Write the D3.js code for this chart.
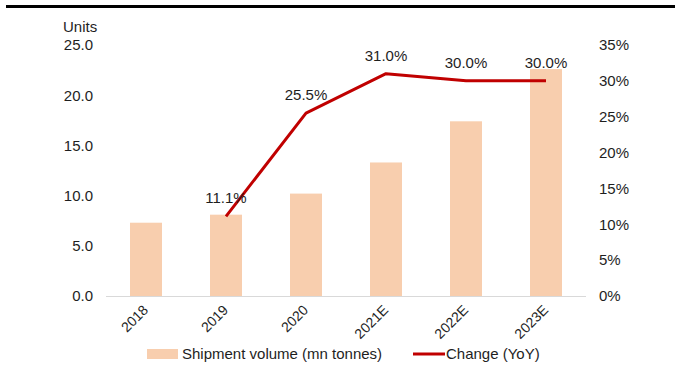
<!DOCTYPE html>
<html>
<head>
<meta charset="utf-8">
<script src="https://cdn.jsdelivr.net/npm/d3@7/dist/d3.min.js"></script>
<style>
  html, body { margin: 0; padding: 0; background: #fff; }
  svg { display: block; font-family: "Liberation Sans", Arial, sans-serif; }
</style>
</head>
<body>
<svg id="chart" width="675" height="367"></svg>
<script>
// Shipment volume (mn tonnes) and year-on-year change
const years = ["2018", "2019", "2020", "2021E", "2022E", "2023E"];
const volume = [7.3, 8.1, 10.2, 13.3, 17.4, 22.6];
const changeYears = ["2019", "2020", "2021E", "2022E", "2023E"];
const changePct = [11.1, 25.5, 31.0, 30.0, 30.0];
const leftTicks = [0, 5, 10, 15, 20, 25];
const rightTicks = [0, 5, 10, 15, 20, 25, 30, 35];

const svg = d3.select("#chart");
const textColor = "#1e1e1e";
const barColor = "#F8CEAE";
const lineColor = "#C00000";

const plot = { left: 106, right: 586, top: 45, bottom: 296 };

// Heavy rule across the top of the page
svg.append("rect")
  .attr("x", 6).attr("y", 5).attr("width", 669).attr("height", 3)
  .attr("fill", "#000");

const x = d3.scaleBand().domain(years)
  .range([plot.left, plot.right]).paddingInner(0.6).paddingOuter(0.3);
const yL = d3.scaleLinear().domain([0, 25]).range([plot.bottom, plot.top]);
const yR = d3.scaleLinear().domain([0, 35]).range([plot.bottom, plot.top]);

// Bars
svg.append("g").selectAll("rect")
  .data(years.map((y, i) => ({ year: y, v: volume[i] })))
  .join("rect")
  .attr("x", d => x(d.year))
  .attr("width", x.bandwidth())
  .attr("y", d => yL(d.v))
  .attr("height", d => yL(0) - yL(d.v))
  .attr("fill", barColor);

// Baseline
svg.append("line")
  .attr("x1", plot.left).attr("x2", plot.right)
  .attr("y1", plot.bottom + 0.5).attr("y2", plot.bottom + 0.5)
  .attr("stroke", "#d9d9d9").attr("stroke-width", 1);

// Left axis
const leftAxis = svg.append("g")
  .attr("transform", `translate(${plot.left - 13},0)`)
  .call(d3.axisLeft(yL).tickValues(leftTicks).tickFormat(d3.format(".1f")).tickSize(0).tickPadding(0));
leftAxis.select(".domain").remove();
leftAxis.selectAll("text")
  .attr("font-size", 15).attr("fill", textColor)
  .attr("font-family", "Liberation Sans, Arial, sans-serif");

svg.append("text")
  .attr("x", 63).attr("y", 32)
  .attr("font-size", 15).attr("fill", textColor)
  .text("Units");

// Right axis
const rightAxis = svg.append("g")
  .attr("transform", `translate(${plot.right + 13},0)`)
  .call(d3.axisRight(yR).tickValues(rightTicks).tickFormat(d => d + "%").tickSize(0).tickPadding(0));
rightAxis.select(".domain").remove();
rightAxis.selectAll("text")
  .attr("font-size", 15).attr("fill", textColor)
  .attr("font-family", "Liberation Sans, Arial, sans-serif");

// Category labels, rotated
const cx = d => x(d) + x.bandwidth() / 2;
svg.append("g").selectAll("text")
  .data(years)
  .join("text")
  .attr("transform", d => `translate(${cx(d) + 3},${plot.bottom + 15}) rotate(-45)`)
  .attr("text-anchor", "end")
  .attr("font-size", 14)
  .attr("fill", textColor)
  .text(d => d);

// YoY change line
const linePts = changeYears.map((y, i) => ({ year: y, v: changePct[i] }));
svg.append("path")
  .datum(linePts)
  .attr("fill", "none")
  .attr("stroke", lineColor)
  .attr("stroke-width", 3)
  .attr("stroke-linejoin", "round")
  .attr("d", d3.line().x(d => cx(d.year)).y(d => yR(d.v)));

svg.append("g").selectAll("text")
  .data(linePts)
  .join("text")
  .attr("x", d => cx(d.year))
  .attr("y", d => yR(d.v) - 13)
  .attr("text-anchor", "middle")
  .attr("font-size", 15)
  .attr("fill", textColor)
  .text(d => d.v.toFixed(1) + "%");

// Legend
const legend = svg.append("g");
legend.append("rect")
  .attr("x", 147).attr("y", 349).attr("width", 31).attr("height", 10)
  .attr("fill", barColor);
legend.append("text")
  .attr("x", 182).attr("y", 359)
  .attr("font-size", 15).attr("fill", textColor)
  .text("Shipment volume (mn tonnes)");
legend.append("line")
  .attr("x1", 413).attr("x2", 445).attr("y1", 354).attr("y2", 354)
  .attr("stroke", lineColor).attr("stroke-width", 3);
legend.append("text")
  .attr("x", 446).attr("y", 359)
  .attr("font-size", 15).attr("fill", textColor)
  .text("Change (YoY)");
</script>
</body>
</html>
